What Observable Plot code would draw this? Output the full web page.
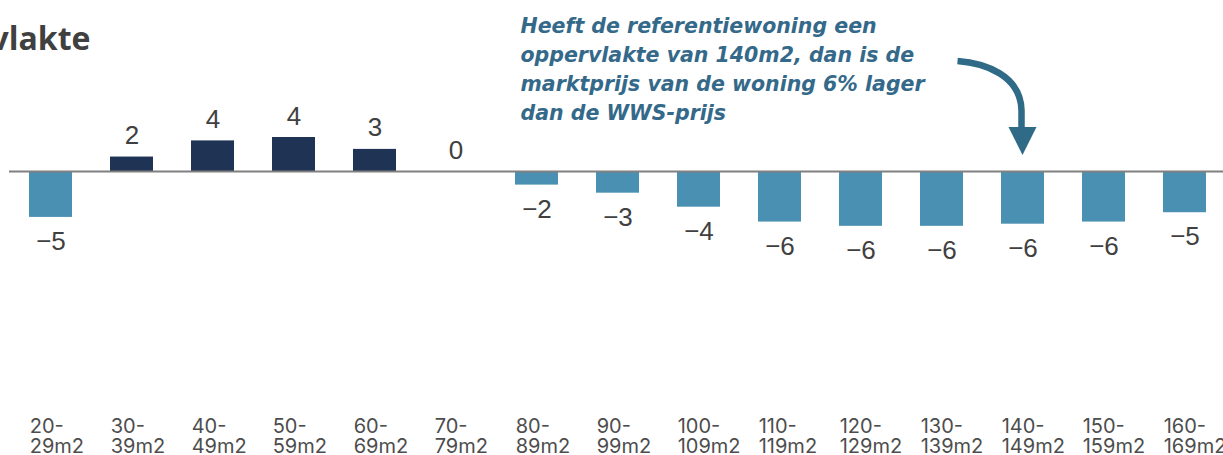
<!DOCTYPE html>
<html><head><meta charset="utf-8">
<script src="https://cdn.jsdelivr.net/npm/d3@7"></script>
<script src="https://cdn.jsdelivr.net/npm/@observablehq/plot@0.6"></script>
<style>
html,body{margin:0;padding:0;background:#fff;overflow:hidden}
#chart{position:relative;width:1223px;height:455px}
</style></head><body><div id="chart"></div>
<script>
const categories = ["20-29m2","30-39m2","40-49m2","50-59m2","60-69m2","70-79m2","80-89m2","90-99m2","100-109m2","110-119m2","120-129m2","130-139m2","140-149m2","150-159m2","160-169m2"];
const values = [-5.4, 1.7, 3.6, 4.0, 2.6, 0, -1.6, -2.55, -4.2, -5.95, -6.45, -6.45, -6.2, -5.95, -4.85];
const titleText = "Prijsverschil naar woonoppervlakte";
const annotationText = "Heeft de referentiewoning een\noppervlakte van 140m2, dan is de\nmarktprijs van de woning 6% lager\ndan de WWS-prijs";
const annotatedCategory = "140-149m2";

const data = categories.map((c, i) => ({
  category: c,
  value: values[i],
  label: String(Math.round(values[i])).replace("-", "\u2212"),
  axisLabel: c.replace("-", "-\n")
}));

const W = 1223, H = 455;
const plot = Plot.plot({
  width: W, height: H,
  marginTop: 0, marginBottom: 0, marginLeft: 9, marginRight: 0,
  x: {domain: categories, range: [0, 1235], paddingInner: 0.475, paddingOuter: 0.345, axis: null},
  y: {domain: [-5, 5], range: [213.5, 128.5], axis: null},
  style: {background: "white"},
  marks: [
    Plot.barY(data.filter(d => d.value >= 0), {x: "category", y: "value", fill: "#1f3354"}),
    Plot.barY(data.filter(d => d.value < 0), {x: "category", y: "value", fill: "#4990b2"}),
    Plot.ruleY([0], {stroke: "#808080", strokeWidth: 2}),
    Plot.text(data.filter(d => d.value >= 0), {x: "category", y: "value", text: "label", lineAnchor: "bottom", dy: -13, fontSize: 26, fontFamily: "Liberation Sans", fill: "#404040"}),
    Plot.text(data.filter(d => d.value < 0), {x: "category", y: "value", text: "label", lineAnchor: "top", dy: 14, fontSize: 26, fontFamily: "Liberation Sans", fill: "#404040"}),
    Plot.text(data, {x: "category", frameAnchor: "bottom", text: "axisLabel", textAnchor: "start", dx: -21.3, lineAnchor: "bottom", lineHeight: 1, dy: -3, fontSize: 20, fontFamily: "Inter", fill: "#4d4d4d"}),
    Plot.text([titleText], {text: d => d, frameAnchor: "top-left", textAnchor: "end", dx: 81, dy: 49, lineAnchor: "bottom", fontSize: 32, fontWeight: 700, fontFamily: "Open Sans", fill: "#404040"}),
    Plot.text([annotationText], {text: d => d, frameAnchor: "top-left", textAnchor: "start", dx: 511, dy: 119, lineAnchor: "bottom", lineHeight: 1.41, fontSize: 20.5, fontWeight: 700, fontStyle: "italic", fontFamily: "DejaVu Sans", fill: "#34698a"})
  ]
});

const xs = plot.scale("x"), ys = plot.scale("y");
const tx = xs.apply(annotatedCategory) + xs.bandwidth / 2;
const ty = ys.apply(0) - 16;
const svg = d3.select(plot);
svg.append("path")
  .attr("d", `M${tx - 65},${ty - 94} C${tx - 38},${ty - 92} ${tx - 2},${ty - 80} ${tx - 1},${ty - 45} L${tx - 1},${ty - 27}`)
  .attr("fill", "none").attr("stroke", "#2f6a87").attr("stroke-width", 6.5);
svg.append("path")
  .attr("d", `M${tx - 14},${ty - 28} L${tx + 14},${ty - 28} L${tx},${ty} Z`)
  .attr("fill", "#2f6a87");

document.getElementById("chart").appendChild(plot);
</script></body></html>
